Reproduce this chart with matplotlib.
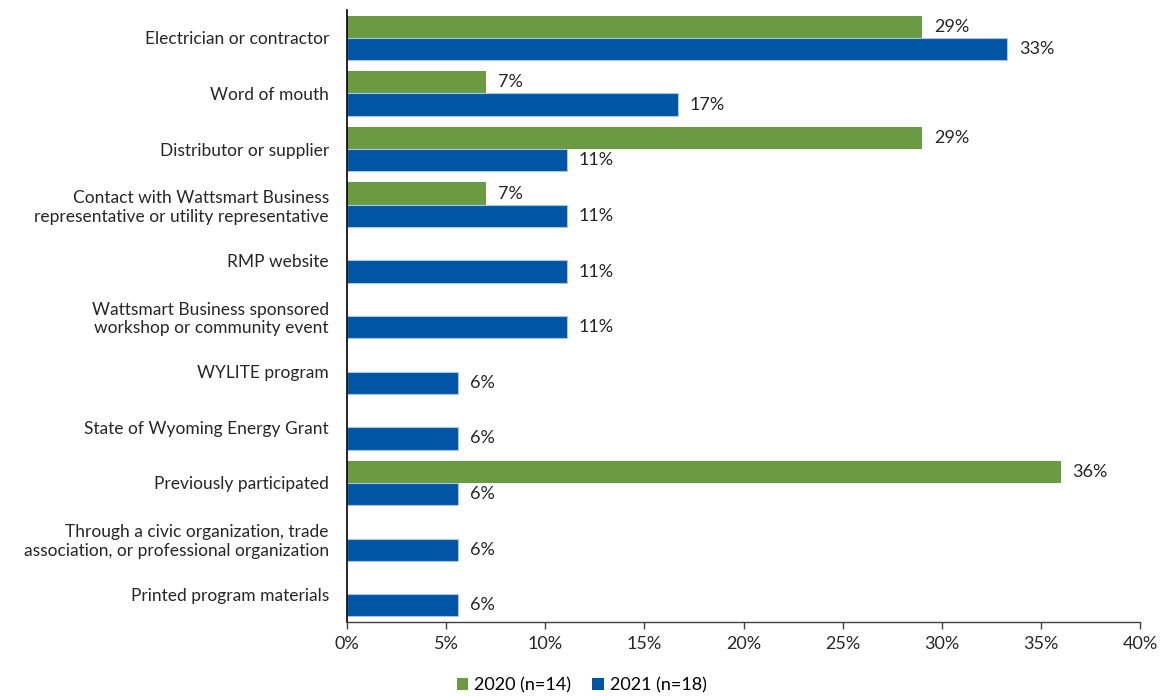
import matplotlib
matplotlib.use("Agg")
import matplotlib.pyplot as plt
from matplotlib.patches import Patch
from matplotlib.ticker import MultipleLocator, FuncFormatter

plt.rcParams['font.family'] = ['Lato', 'DejaVu Sans']

categories = [
    "Electrician or contractor",
    "Word of mouth",
    "Distributor or supplier",
    "Contact with Wattsmart Business\nrepresentative or utility representative",
    "RMP website",
    "Wattsmart Business sponsored\nworkshop or community event",
    "WYLITE program",
    "State of Wyoming Energy Grant",
    "Previously participated",
    "Through a civic organization, trade\nassociation, or professional organization",
    "Printed program materials",
]
# None = not reported for that year
values_2020 = [29, 7, 29, 7, None, None, None, None, 36, None, None]
values_2021 = [33.3, 16.7, 11.1, 11.1, 11.1, 11.1, 5.6, 5.6, 5.6, 5.6, 5.6]
series_labels = ["2020 (n=14)", "2021 (n=18)"]

green = "#6a9a42"
blue = "#0055a5"
text_color = "#262626"
fs = 13

fig = plt.figure(figsize=(11.63, 6.96), dpi=100)
ax = fig.add_axes([0.2984, 0.1063, 0.6818, 0.8793])

bar_h = 0.4
for i, (v20, v21) in enumerate(zip(values_2020, values_2021)):
    if v20 is not None:
        ax.barh(i - bar_h / 2, v20, height=bar_h, color=green)
        ax.text(v20 + 0.6, i - bar_h / 2, f"{round(v20):.0f}%", va="center",
                ha="left", fontsize=fs, color=text_color)
    ax.barh(i + bar_h / 2, v21, height=bar_h, color=blue,
            edgecolor="#a9c4e4", linewidth=0.8)
    ax.text(v21 + 0.6, i + bar_h / 2, f"{round(v21):.0f}%", va="center",
            ha="left", fontsize=fs, color=text_color)

ax.set_ylim(10.5, -0.5)
ax.set_xlim(0, 40)
ax.set_yticks(range(len(categories)))
ax.set_yticklabels(categories, fontsize=12.5, color=text_color, linespacing=1.2)
ax.tick_params(axis="y", length=0, pad=13)
ax.xaxis.set_major_locator(MultipleLocator(5))
ax.xaxis.set_major_formatter(FuncFormatter(lambda x, p: f"{x:.0f}%"))
ax.tick_params(axis="x", direction="out", length=5, width=1, color="#404040",
               labelsize=fs, labelcolor=text_color, pad=5)

for s in ("top", "right"):
    ax.spines[s].set_visible(False)
ax.spines["left"].set_color("black")
ax.spines["left"].set_linewidth(1.2)
ax.spines["bottom"].set_color("#404040")
ax.spines["bottom"].set_linewidth(1)

handles = [Patch(facecolor=green, label=series_labels[0]),
           Patch(facecolor=blue, label=series_labels[1])]
fig.legend(handles=handles, loc="center", bbox_to_anchor=(0.5, 0.015),
           ncol=2, frameon=False, fontsize=fs, handlelength=0.65,
           handleheight=0.65, handletextpad=0.3, columnspacing=1.2)

fig.savefig("out.png", dpi=100)
